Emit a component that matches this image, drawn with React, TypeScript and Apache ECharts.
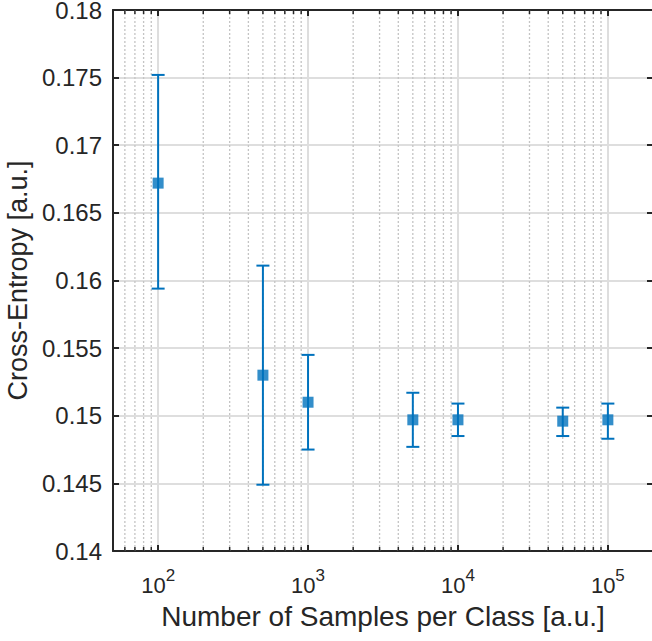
import React, { useEffect, useRef } from "react";
import * as echarts from "echarts";

const samples = [100, 500, 1000, 5000, 10000, 50000, 100000];
const means = [0.1672, 0.153, 0.151, 0.1497, 0.1497, 0.1496, 0.1497];
const lower = [0.1594, 0.1449, 0.1475, 0.1477, 0.1485, 0.1485, 0.1483];
const upper = [0.1752, 0.1611, 0.1545, 0.1517, 0.1509, 0.1506, 0.1509];
const minorTicks = [
  60, 70, 80, 90, 200, 300, 400, 500, 600, 700, 800, 900, 2000, 3000, 4000,
  5000, 6000, 7000, 8000, 9000, 20000, 30000, 40000, 50000, 60000, 70000,
  80000, 90000,
];
const X_MIN = 50;
const X_MAX = 200000;
const Y_MIN = 0.14;
const Y_MAX = 0.18;
const Y_STEP = 0.005;

const BLUE = "#0072BD";
const DARK = "#262626";
const FONT = "'Liberation Sans', Arial, Helvetica, sans-serif";

export default function App() {
  const ref = useRef<HTMLDivElement>(null);
  useEffect(() => {
    const chart = echarts.init(ref.current!, null, { renderer: "svg" });
    const xFormatter = (v: number) => {
      const e = Math.log10(v);
      const r = Math.round(e);
      if (Math.abs(e - r) > 1e-6) return "";
      return `{b|10}{s|${r}}`;
    };
    chart.setOption({
      animation: false,
      backgroundColor: "#ffffff",
      textStyle: { fontFamily: FONT },
      grid: {
        left: 113,
        right: -1,
        top: 10,
        bottom: 90,
        containLabel: false,
        outerBoundsMode: "none",
      },
      xAxis: [
        {
          type: "log",
          logBase: 10,
          min: X_MIN,
          max: X_MAX,
          position: "bottom",
          name: "Number of Samples per Class [a.u.]",
          nameLocation: "middle",
          nameGap: 51,
          nameTextStyle: { fontSize: 28, color: DARK, fontFamily: FONT },
          axisLine: { show: true, lineStyle: { color: DARK, width: 2 } },
          axisTick: { show: true, inside: true, length: 6, lineStyle: { color: DARK, width: 2 } },
          splitLine: { show: true, lineStyle: { color: "#dedede", width: 2 } },
          axisLabel: {
            margin: 16,
            formatter: xFormatter,
            color: DARK,
            fontFamily: FONT,
            rich: {
              b: { fontSize: 22, color: DARK, fontFamily: FONT, verticalAlign: "bottom" },
              s: {
                fontSize: 17,
                color: DARK,
                fontFamily: FONT,
                verticalAlign: "bottom",
                padding: [0, 0, 12, 0],
              },
            },
          },
        },
        {
          type: "log",
          logBase: 10,
          min: X_MIN,
          max: X_MAX,
          position: "top",
          axisLine: { show: true, lineStyle: { color: DARK, width: 2 } },
          axisTick: { show: true, inside: true, length: 6, lineStyle: { color: DARK, width: 2 } },
          splitLine: { show: false },
          axisLabel: { show: false },
        },
      ],
      yAxis: [
        {
          type: "value",
          min: Y_MIN,
          max: Y_MAX,
          interval: Y_STEP,
          position: "left",
          name: "Cross-Entropy [a.u.]",
          nameLocation: "middle",
          nameGap: 81,
          nameTextStyle: { fontSize: 27, color: DARK, fontFamily: FONT },
          axisLine: { show: true, lineStyle: { color: DARK, width: 2 } },
          axisTick: { show: true, inside: true, length: 6, lineStyle: { color: DARK, width: 2 } },
          splitLine: { show: true, lineStyle: { color: "#dedede", width: 2 } },
          axisLabel: { margin: 11, fontSize: 24, lineHeight: 18, color: DARK, fontFamily: FONT },
        },
        {
          type: "value",
          min: Y_MIN,
          max: Y_MAX,
          interval: Y_STEP,
          position: "right",
          axisLine: { show: true, lineStyle: { color: DARK, width: 2 } },
          axisTick: { show: true, inside: true, length: 6, lineStyle: { color: DARK, width: 2 } },
          splitLine: { show: false },
          axisLabel: { show: false },
        },
      ],
      series: [
        {
          type: "custom",
          xAxisIndex: 0,
          yAxisIndex: 0,
          z: 1,
          silent: true,
          data: minorTicks.map((v) => [v]),
          encode: { x: 0 },
          renderItem: (params: any, api: any) => {
            const v = api.value(0);
            const b = api.coord([v, Y_MIN]);
            const t = api.coord([v, Y_MAX]);
            return {
              type: "group",
              children: [
                {
                  type: "line",
                  shape: { x1: b[0], y1: b[1], x2: t[0], y2: t[1] },
                  style: { stroke: "#c4c4c4", lineWidth: 1.3, lineDash: [2, 2] },
                },
                {
                  type: "line",
                  shape: { x1: b[0], y1: b[1], x2: b[0], y2: b[1] - 4 },
                  style: { stroke: DARK, lineWidth: 1.5 },
                },
                {
                  type: "line",
                  shape: { x1: t[0], y1: t[1], x2: t[0], y2: t[1] + 4 },
                  style: { stroke: DARK, lineWidth: 1.5 },
                },
              ],
            };
          },
        },
        {
          type: "custom",
          xAxisIndex: 0,
          yAxisIndex: 0,
          z: 3,
          silent: true,
          data: samples.map((s, i) => [s, lower[i], upper[i]]),
          encode: { x: 0, y: [1, 2] },
          renderItem: (params: any, api: any) => {
            const lo = api.coord([api.value(0), api.value(1)]);
            const hi = api.coord([api.value(0), api.value(2)]);
            const w = 6.5;
            const style = { stroke: BLUE, lineWidth: 2 };
            return {
              type: "group",
              children: [
                { type: "line", shape: { x1: lo[0], y1: lo[1], x2: hi[0], y2: hi[1] }, style },
                { type: "line", shape: { x1: lo[0] - w, y1: lo[1], x2: lo[0] + w, y2: lo[1] }, style },
                { type: "line", shape: { x1: hi[0] - w, y1: hi[1], x2: hi[0] + w, y2: hi[1] }, style },
              ],
            };
          },
        },
        {
          type: "scatter",
          xAxisIndex: 0,
          yAxisIndex: 0,
          z: 4,
          symbol: "rect",
          symbolSize: 11,
          itemStyle: { color: BLUE },
          data: samples.map((s, i) => [s, means[i]]),
        },
      ],
    });
    return () => chart.dispose();
  }, []);
  return (
    <div
      ref={ref}
      style={{ position: "absolute", left: 0, top: 0, width: 652, height: 641, background: "#fff" }}
    />
  );
}
